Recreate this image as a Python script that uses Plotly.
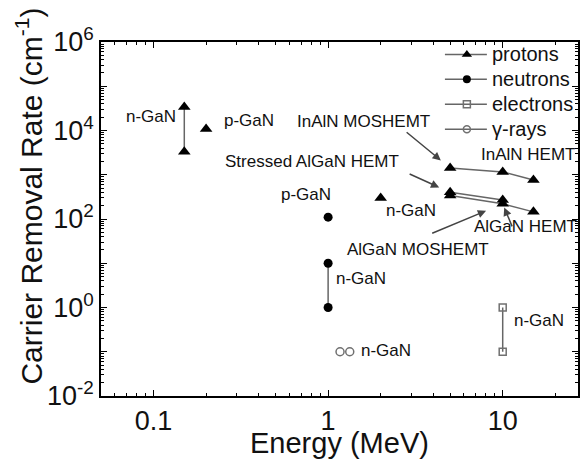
import numpy as np
import plotly.graph_objects as go

# ---- data: carrier removal rate (cm^-1) vs particle energy (MeV) ----
# protons
p_ngan_E = [0.15, 0.15]
p_ngan_R = [3.4e4, 3.3e3]
p_pgan_E = [0.2]
p_pgan_R = [1.08e4]
p_ngan2_E = [2]
p_ngan2_R = [300]
inaln_E = [5, 10, 15]
inaln_R = [1420, 1160, 760]
stressed_E = [5, 10]
stressed_R = [400, 270]
algan_E = [5, 10, 15]
algan_R = [340, 220, 145]
# neutrons
n_pgan_E = [1]
n_pgan_R = [110]
n_ngan_E = [1, 1]
n_ngan_R = [10, 1]
# electrons
e_ngan_E = [10, 10]
e_ngan_R = [1, 0.1]
# gamma rays
g_ngan_E = [1.17, 1.33]
g_ngan_R = [0.1, 0.1]

legend_names = ["protons", "neutrons", "electrons", "γ-rays"]

y_tick_exp = [-2, -1, 0, 1, 2, 3, 4, 5, 6]
x_tick_vals = [0.1, 1, 10]
x_tick_text = ["0.1", "1", "10"]

FONT = "Liberation Sans, Arial, sans-serif"
TXT = "#111111"
LINE = "#666666"

fig = go.Figure()

tri = dict(symbol="triangle-up", size=11, color="black")
dot = dict(symbol="circle", size=9, color="black")
sq = dict(symbol="square-open", size=7, color="#707070", line=dict(width=1.5))
ring = dict(symbol="circle-open", size=8, color="#707070", line=dict(width=1.5))


def add(E, R, marker, mode="markers", lw=1.5):
    fig.add_trace(go.Scatter(x=E, y=R, mode=mode, marker=marker,
                             line=dict(color=LINE, width=lw),
                             showlegend=False, hoverinfo="skip"))


add(p_ngan_E, p_ngan_R, tri, "lines+markers")
add(p_pgan_E, p_pgan_R, tri)
add(p_ngan2_E, p_ngan2_R, tri)
add(inaln_E, inaln_R, tri, "lines+markers")
add(stressed_E, stressed_R, tri, "lines+markers")
add(algan_E, algan_R, tri, "lines+markers")
add(n_pgan_E, n_pgan_R, dot)
add(n_ngan_E, n_ngan_R, dot, "lines+markers")
add(e_ngan_E, e_ngan_R, sq, "lines+markers")
add(g_ngan_E, g_ngan_R, ring)

# key drawn in a 0..1 overlay frame (top-right corner of the plot)
key_markers = [dict(symbol="triangle-up", size=9, color="black"),
               dict(symbol="circle", size=8, color="black"),
               dict(symbol="square-open", size=7, color="#707070", line=dict(width=1.5)),
               dict(symbol="circle-open", size=7, color="#707070", line=dict(width=1.5))]
key_x0, key_xm, key_x1, key_xt = 0.721, 0.767, 0.809, 0.815
key_y0, key_dy = 0.965, 0.0705
annotations = []
for i, (name, mk) in enumerate(zip(legend_names, key_markers)):
    ky = key_y0 - i * key_dy
    fig.add_trace(go.Scatter(x=[key_x0, key_x1], y=[ky, ky], mode="lines",
                             line=dict(color=LINE, width=1.5),
                             xaxis="x2", yaxis="y2", showlegend=False, hoverinfo="skip"))
    fig.add_trace(go.Scatter(x=[key_xm], y=[ky], mode="markers", marker=mk,
                             xaxis="x2", yaxis="y2", showlegend=False, hoverinfo="skip"))
    annotations.append(dict(x=key_xt, y=ky, xref="x2", yref="y2", text=name,
                            showarrow=False, xanchor="left", yanchor="middle",
                            font=dict(family=FONT, size=20, color=TXT)))


def label(text, E, R, dx, dy, anchor="center"):
    annotations.append(dict(x=np.log10(E), y=np.log10(R), xref="x", yref="y",
                            text=text, showarrow=False, xanchor=anchor,
                            xshift=dx, yshift=dy,
                            font=dict(family=FONT, size=17, color=TXT)))


def arrow(E, R, ax, ay, standoff):
    annotations.append(dict(x=np.log10(E), y=np.log10(R), xref="x", yref="y",
                            text="", showarrow=True, ax=ax, ay=ay,
                            arrowhead=2, arrowsize=1.1, arrowwidth=1.5,
                            arrowcolor="#444444", standoff=standoff))


label("n-GaN", p_ngan_E[0], p_ngan_R[0], -6, -10, "right")
label("p-GaN", p_pgan_E[0], p_pgan_R[0], 16, 9, "left")
label("InAlN MOSHEMT", inaln_E[0], inaln_R[0], -87, 47)
label("Stressed AlGaN HEMT", stressed_E[0], stressed_R[0], -138, 31)
label("InAlN HEMT", inaln_E[1], inaln_R[1], 25, 17)
label("AlGaN HEMT", algan_E[2], algan_R[2], -8, -15)
label("AlGaN MOSHEMT", algan_E[1], algan_R[1], -85, -46)
label("n-GaN", p_ngan2_E[0], p_ngan2_R[0], 30, -13)
label("p-GaN", n_pgan_E[0], n_pgan_R[0], -22, 23)
label("n-GaN", n_ngan_E[0], n_ngan_R[0], 33, -15)
label("n-GaN", e_ngan_E[0], e_ngan_R[0], 36, -13)
label("n-GaN", g_ngan_E[1], g_ngan_R[1], 36, 1)

arrow(inaln_E[0], inaln_R[0], -45, -37, 12)
arrow(stressed_E[0], stressed_R[0], -42, -19, 12)
arrow(algan_E[1], algan_R[1], -72, 30, 18)
arrow(algan_E[1], algan_R[1], 10, 24, 4)

# axis titles
annotations.append(dict(x=0.5, y=-0.133, xref="paper", yref="paper",
                        text="Energy (MeV)", showarrow=False,
                        xanchor="center", yanchor="middle",
                        font=dict(family=FONT, size=29, color=TXT)))
annotations.append(dict(x=-0.151, y=0.566, xref="paper", yref="paper",
                        text="Carrier Removal Rate (cm<sup>-1</sup>)", showarrow=False,
                        textangle=-90, xanchor="center", yanchor="middle",
                        font=dict(family=FONT, size=30, color=TXT)))

axis_common = dict(showline=True, linecolor="black", linewidth=1.5, mirror="allticks",
                   ticks="inside", ticklen=6, tickwidth=1.2, tickcolor="black",
                   showgrid=False, zeroline=False, automargin=False,
                   tickfont=dict(family=FONT, size=27, color=TXT))

fig.update_xaxes(type="log", range=[np.log10(0.05), np.log10(27)],
                 tickmode="array", tickvals=x_tick_vals, ticktext=x_tick_text,
                 minor=dict(ticks="inside", ticklen=3, tickwidth=1, tickcolor="black",
                            dtick="D1", showgrid=False),
                 **axis_common)
fig.update_yaxes(type="log", range=[-2, 6],
                 tickmode="array", tickvals=[10.0 ** e for e in y_tick_exp],
                 ticktext=[f"10<sup>{e}</sup>" if e % 2 == 0 else "" for e in y_tick_exp],
                 minor=dict(ticks="inside", ticklen=3, tickwidth=1, tickcolor="black",
                            dtick="D1", showgrid=False),
                 **axis_common)

fig.update_layout(
    width=583, height=459,
    margin=dict(l=101, r=5, t=42, b=63),
    paper_bgcolor="white", plot_bgcolor="white",
    annotations=annotations,
    showlegend=False,
    xaxis2=dict(overlaying="x", range=[0, 1], visible=False, fixedrange=True),
    yaxis2=dict(overlaying="y", range=[0, 1], visible=False, fixedrange=True),
)

fig.write_html("out.html")
